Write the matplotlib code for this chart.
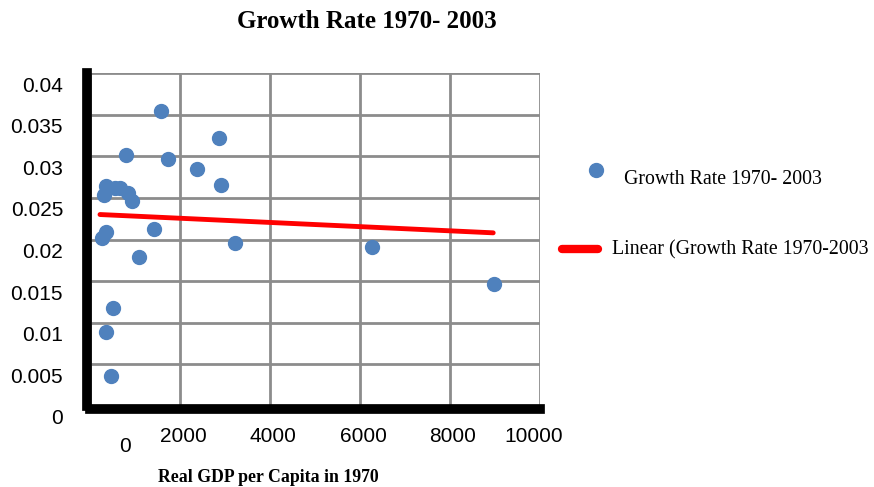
import matplotlib.pyplot as plt
from matplotlib.lines import Line2D

# real GDP per capita in 1970 and growth rate 1970-2003
gdp_1970 = [1578, 2867, 800, 1733, 2378, 2911, 356, 311, 667, 560, 844,
            933, 356, 267, 1422, 1089, 3222, 511, 356, 467, 6267, 8978]
growth = [0.0354, 0.0322, 0.0301, 0.0297, 0.0285, 0.0265, 0.0264, 0.0253,
          0.0262, 0.0262, 0.0256, 0.0246, 0.0209, 0.0202, 0.0213, 0.0179,
          0.0196, 0.0118, 0.0089, 0.0036, 0.0191, 0.0147]

# linear trend as drawn in the original
trend_x = [222, 8960]
trend_y = [0.0230, 0.0208]

yticks = [0, 0.005, 0.01, 0.015, 0.02, 0.025, 0.03, 0.035, 0.04]
ytick_labels = ['0', '0.005', '0.01', '0.015', '0.02', '0.025', '0.03', '0.035', '0.04']
xticks = [2000, 4000, 6000, 8000, 10000]
xtick_labels = ['2000', '4000', '6000', '8000', '10000']

blue = '#4F81BD'
red = '#FF0000'
sans = 'Liberation Sans'
serif = 'Liberation Serif'
plt.rcParams['font.family'] = sans

fig = plt.figure(figsize=(8.74, 4.87), dpi=100)
ax = fig.add_axes([90 / 874, 81 / 487, 450 / 874, 333 / 487])

ax.set_xlim(0, 10000)
ax.set_ylim(0, 0.04)

ax.set_xticks([0] + xticks)
ax.set_yticks(yticks)
ax.tick_params(axis='y', length=2, width=1.5, labelleft=False)
ax.tick_params(axis='x', length=0, labelbottom=False)

# tick labels placed by hand: the original has them offset from the grid
for v, t in zip(yticks, ytick_labels):
    ax.annotate(t, xy=(0, v), xycoords=('axes fraction', 'data'), xytext=(-27, -13),
                textcoords='offset pixels', ha='right', va='center', fontsize=15,
                annotation_clip=False)
for v, t in zip(xticks, xtick_labels):
    dx = -6 if v == 10000 else 3
    ax.annotate(t, xy=(v, 0), xycoords=('data', 'axes fraction'), xytext=(dx, -31),
                textcoords='offset pixels', ha='center', va='center', fontsize=15,
                annotation_clip=False)
# stray zero label under the x axis
ax.annotate('0', xy=(0, 0), xycoords='data', xytext=(35, -41), textcoords='offset pixels',
            ha='center', va='center', fontsize=15, annotation_clip=False)

ax.grid(True, color='#8c8c8c', linewidth=2)
ax.set_axisbelow(True)
for s in ['top', 'right']:
    ax.spines[s].set_visible(False)
for s in ['left', 'bottom']:
    ax.spines[s].set_linewidth(7)
    ax.spines[s].set_color('black')
    ax.spines[s].set_position(('outward', 2))

ax.plot(trend_x, trend_y, color=red, linewidth=3.5, solid_capstyle='round', zorder=3)
ax.plot(gdp_1970, growth, 'o', color=blue, markersize=10, zorder=4)

fig.text(367 / 874, 1 - 22 / 487, 'Growth Rate 1970- 2003', ha='center', va='center',
         fontfamily=serif, fontweight='bold', fontsize=18)
fig.text(268 / 874, 1 - 478 / 487, 'Real GDP per Capita in 1970', ha='center', va='center',
         fontfamily=serif, fontweight='bold', fontsize=12.8)

# legend drawn by hand to keep the original offsets
fig.add_artist(Line2D([596 / 874], [1 - 170 / 487], marker='o', color=blue,
                      markersize=10, linestyle='none', transform=fig.transFigure))
fig.text(624 / 874, 1 - 180 / 487, 'Growth Rate 1970- 2003', ha='left', va='center',
         fontfamily=serif, fontsize=14.3)
fig.add_artist(Line2D([562 / 874, 598 / 874], [1 - 249 / 487, 1 - 249 / 487], color=red,
                      linewidth=6, solid_capstyle='round', transform=fig.transFigure))
fig.text(612 / 874, 1 - 250 / 487, 'Linear (Growth Rate 1970-2003', ha='left', va='center',
         fontfamily=serif, fontsize=14.3)

fig.savefig('out.png', dpi=100)
